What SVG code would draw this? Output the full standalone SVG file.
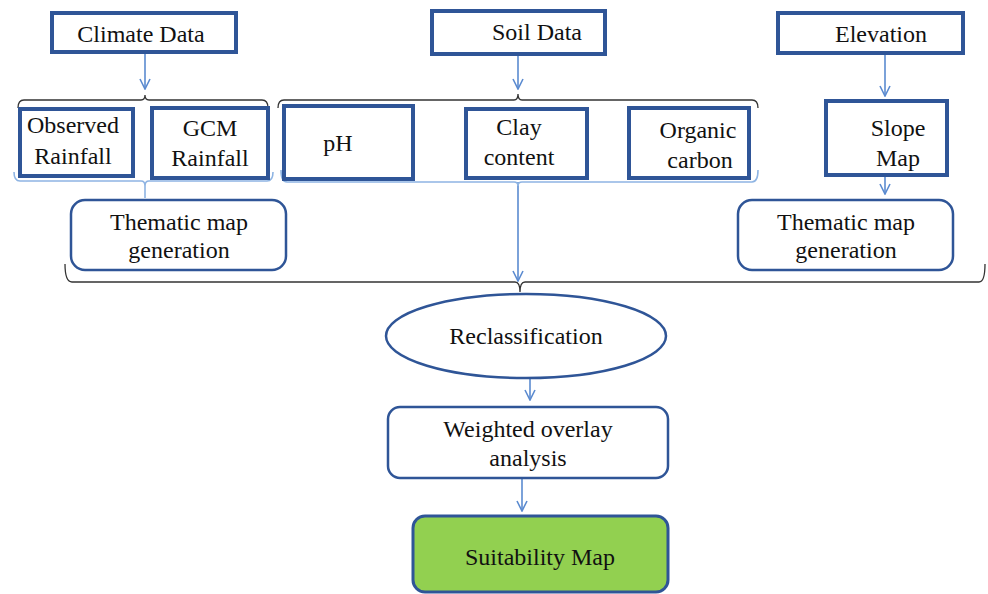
<svg xmlns="http://www.w3.org/2000/svg" width="988" height="594" viewBox="0 0 988 594">
<defs>
<marker id="arr" viewBox="0 0 12 12" refX="11" refY="6" markerWidth="12" markerHeight="12" markerUnits="userSpaceOnUse" orient="auto">
<path d="M1,1 L11,6 L1,11" fill="none" stroke="#5B8BD0" stroke-width="1.6"/>
</marker>
<style>
.box{fill:#fff;stroke:#2F5597;stroke-width:4}
.rbox{fill:#fff;stroke:#2F5597;stroke-width:2.5}
.t{font-family:"Liberation Serif","Times New Roman",serif;font-size:24px;fill:#111;text-anchor:middle}
.ln{fill:none;stroke:#5B8BD0;stroke-width:1.6}
.bk{fill:none;stroke:#333;stroke-width:1.3}
.bb{fill:none;stroke:#8EB4E3;stroke-width:1.6}
</style>
</defs>
<g id="connectors">
<line class="ln" x1="145" y1="53" x2="145" y2="89" marker-end="url(#arr)"/>
<line class="ln" x1="518" y1="55" x2="518" y2="89" marker-end="url(#arr)"/>
<line class="ln" x1="885" y1="53" x2="885" y2="96" marker-end="url(#arr)"/>
<line class="ln" x1="885" y1="176" x2="885" y2="194" marker-end="url(#arr)"/>
<line class="ln" x1="518" y1="182" x2="518" y2="281" marker-end="url(#arr)"/>
<line class="ln" x1="530" y1="378" x2="530" y2="400" marker-end="url(#arr)"/>
<line class="ln" x1="522" y1="478" x2="522" y2="511" marker-end="url(#arr)"/>
<path class="bk" d="M18,108 Q18,100 24,100 L141,100 Q145,100 145,95 Q145,100 149,100 L262,100 Q268,100 268,108"/>
<path class="bk" d="M278,108 Q278,100 284,100 L514,100 Q518,100 518,94 Q518,100 522,100 L752,100 Q758,100 758,108"/>
<path class="bb" d="M14,172 Q14,181 20,181 L141,181 Q145,181 145,186 L145,198 M145,186 Q145,181 149,181 L267,181 Q273,181 273,172"/>
<path class="bb" d="M281,170 Q281,182 287,182 L514,182 Q518,182 518,186 Q518,182 522,182 L752,182 Q758,182 758,170"/>
<path class="bk" d="M65,264 Q65,282 72,282 L515,282 Q520,282 520,292 Q520,282 525,282 L979,282 Q985,282 985,264"/>
</g>
<g id="climate-data"><rect class="box" x="52" y="13" width="184" height="39"/><text class="t" x="141" y="42">Climate Data</text></g>
<g id="soil-data"><rect class="box" x="432" y="11" width="173" height="43"/><text class="t" x="537" y="40">Soil Data</text></g>
<g id="elevation"><rect class="box" x="778" y="13" width="185" height="40"/><text class="t" x="881" y="42">Elevation</text></g>
<g id="observed-rainfall"><rect class="box" x="20" y="109" width="113" height="67"/><text class="t" x="73" y="133">Observed</text><text class="t" x="73" y="164">Rainfall</text></g>
<g id="gcm-rainfall"><rect class="box" x="152" y="108" width="116" height="70"/><text class="t" x="210" y="136">GCM</text><text class="t" x="210" y="166">Rainfall</text></g>
<g id="ph"><rect class="box" x="284" y="106" width="129" height="73"/><text class="t" x="338" y="151">pH</text></g>
<g id="clay-content"><rect class="box" x="466" y="109" width="121" height="69"/><text class="t" x="519" y="135">Clay</text><text class="t" x="519" y="165">content</text></g>
<g id="organic-carbon"><rect class="box" x="629" y="108" width="120" height="70"/><text class="t" x="698" y="138">Organic</text><text class="t" x="700" y="168">carbon</text></g>
<g id="slope-map"><rect class="box" x="826" y="101" width="121" height="74"/><text class="t" x="898" y="136">Slope</text><text class="t" x="898" y="166">Map</text></g>
<g id="thematic-left"><rect class="rbox" x="71" y="200" width="215" height="70" rx="14"/><text class="t" x="179" y="230">Thematic map</text><text class="t" x="179" y="258">generation</text></g>
<g id="thematic-right"><rect class="rbox" x="738" y="200" width="215" height="70" rx="14"/><text class="t" x="846" y="230">Thematic map</text><text class="t" x="846" y="258">generation</text></g>
<g id="reclassification"><ellipse cx="526" cy="336" rx="140" ry="42" fill="#fff" stroke="#2F5597" stroke-width="2.5"/><text class="t" x="526" y="344">Reclassification</text></g>
<g id="weighted-overlay"><rect class="rbox" x="388" y="407" width="280" height="71" rx="12"/><text class="t" x="528" y="437">Weighted overlay</text><text class="t" x="528" y="466">analysis</text></g>
<g id="suitability-map"><rect x="413" y="516" width="255" height="76" rx="12" fill="#92D050" stroke="#2F5597" stroke-width="3"/><text class="t" x="540" y="565">Suitability Map</text></g>
</svg>
